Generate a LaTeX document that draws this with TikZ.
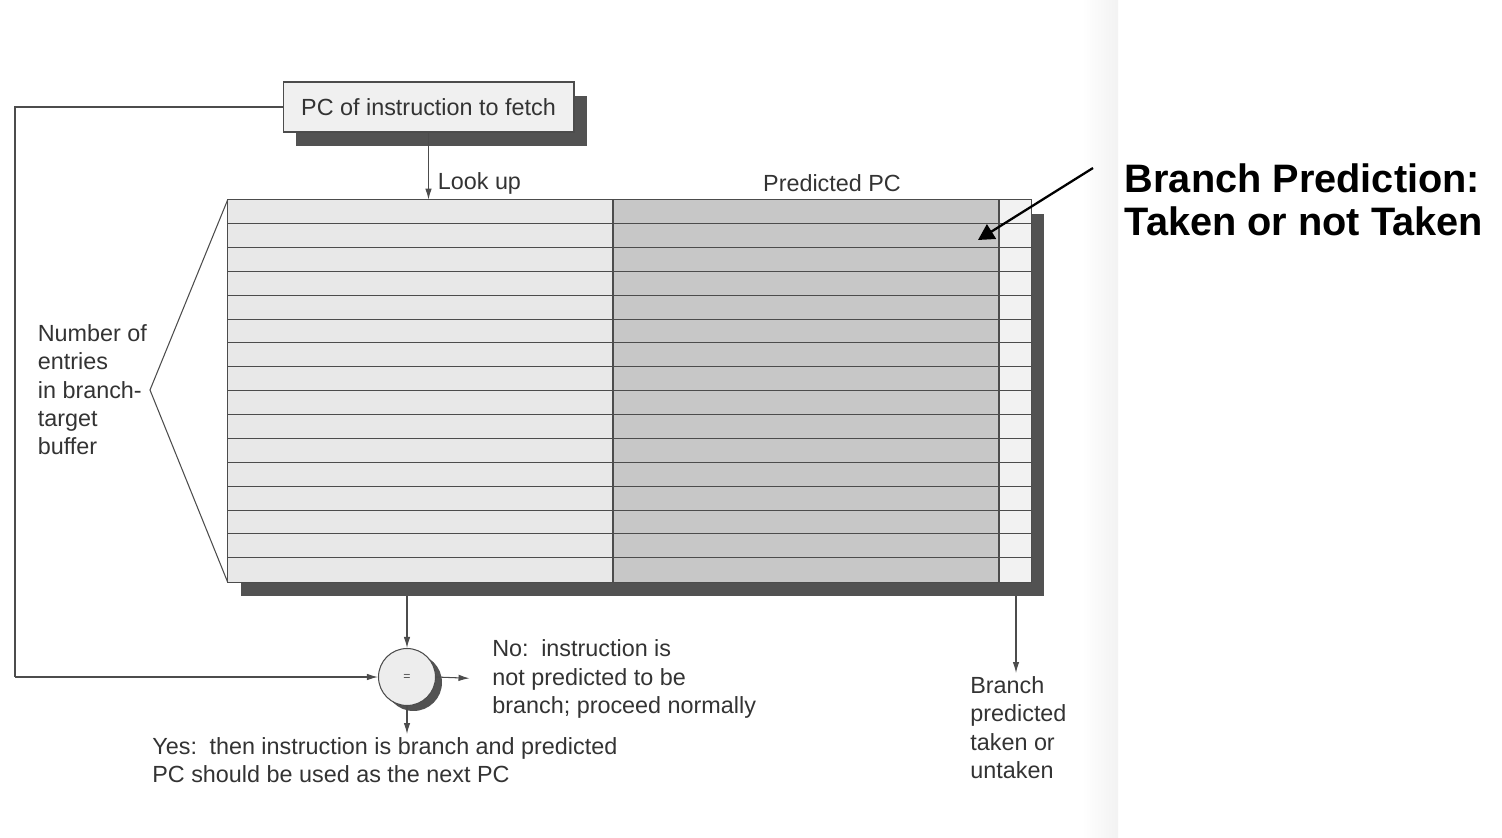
\documentclass[tikz,border=0pt]{standalone}
\usepackage{fontspec}
\setmainfont{Liberation Sans}
\usetikzlibrary{arrows.meta, calc, shadows}

\begin{document}
\begin{tikzpicture}[x=0.02cm, y=-0.02cm,
  lbl/.style={inner sep=2pt, text=black!80, font=\fontsize{13.3}{16}\selectfont},
  tline/.style={draw=black!70, line width=0.6pt},
  arr/.style={tline, -{Latex[length=0.22cm, width=0.13cm]}},
  shade/.style={drop shadow={shadow xshift=0.26cm, shadow yshift=-0.28cm,
    fill=black!68, opacity=1}},
  pcbox/.style={lbl, tline, fill=black!6, shade, minimum width=5.82cm,
    minimum height=1.0cm, inner sep=4pt},
  btbox/.style={fill=black!9, shade, minimum width=16.06cm, minimum height=7.64cm,
    inner sep=0pt},
  eqnode/.style={circle, tline, fill=black!7, minimum size=1.14cm, inner sep=0pt,
    font=\scriptsize, text=black!70,
    drop shadow={shadow xshift=0.13cm, shadow yshift=-0.11cm, fill=black!68, opacity=1}},
  bplbl/.style={font=\fontsize{22.6}{24.5}\selectfont\bfseries, align=left, inner sep=2pt}]
\useasboundingbox (0,0) rectangle (1502,838);
% scanned page edge
\fill[left color=white, right color=black!5] (1082,0) rectangle (1118,838);

\node[pcbox] (pc) at (428.5,107) {PC of instruction to fetch};

% branch-target buffer
\node[btbox] (btb) at (629.5,391) {};
\fill[black!22] (613,200) rectangle (999,582);
\fill[black!5] (999,200) rectangle (1031,582);
\foreach \i in {1,...,15}
  \draw[tline] ($(btb.north west)+(0,\i*23.875)$) -- ($(btb.north east)+(0,\i*23.875)$);
\draw[tline] (613,200) -- (613,582);
\draw[tline] (999,200) -- (999,582);
\draw[tline] (btb.north west) rectangle (btb.south east);
\coordinate (shb) at (629.5,596);
\coordinate (bitcol) at (1016,391);

\node[lbl, anchor=west] (lookup) at (434,183) {Look up};
\node[lbl] (predpc) at (832,183) {Predicted PC};

\coordinate (brv) at (150,390);
\draw[tline] (btb.north west) -- (brv) -- (btb.south west);
\node[lbl, anchor=north west, align=left] (nent) at (34,321)
  {Number of\\entries\\in branch-\\target\\buffer};

\node[eqnode] (eq) at (407,677) {=};
\node[lbl, anchor=west, align=left] (no) at (488.5,679)
  {No:\, instruction is\\not predicted to be\\branch; proceed normally};
\node[lbl, anchor=north west, align=left] (yes) at (148.5,734)
  {Yes:\, then instruction is branch and predicted\\PC should be used as the next PC};
\node[lbl, anchor=north west, align=left] (taken) at (966.5,673)
  {Branch\\predicted\\taken or\\untaken};

\coordinate (fbk) at (15,677);
\draw[tline] (pc.west) -| (fbk);
\draw[arr] (fbk) -- (eq.west);
\draw[arr] (pc.south) -- (pc.south |- btb.north);
\draw[arr] (eq.north |- shb) -- (eq.north);
\draw[arr, shorten >=0.38cm] (eq.east) -- (no.west);
\draw[arr] (eq.south) -- (eq.south |- yes.north);
\draw[arr] (bitcol |- shb) -- (bitcol |- taken.north);

\node[bplbl, anchor=west] (bpred) at (1121,199.5) {Branch Prediction:\\Taken or not Taken};
\coordinate (bpstart) at (1093,168);
\coordinate (bptip) at (978,240);
\draw[line width=1.3pt, -{Triangle[length=0.32cm, width=0.34cm]}] (bpstart) -- (bptip);
\end{tikzpicture}
\end{document}
